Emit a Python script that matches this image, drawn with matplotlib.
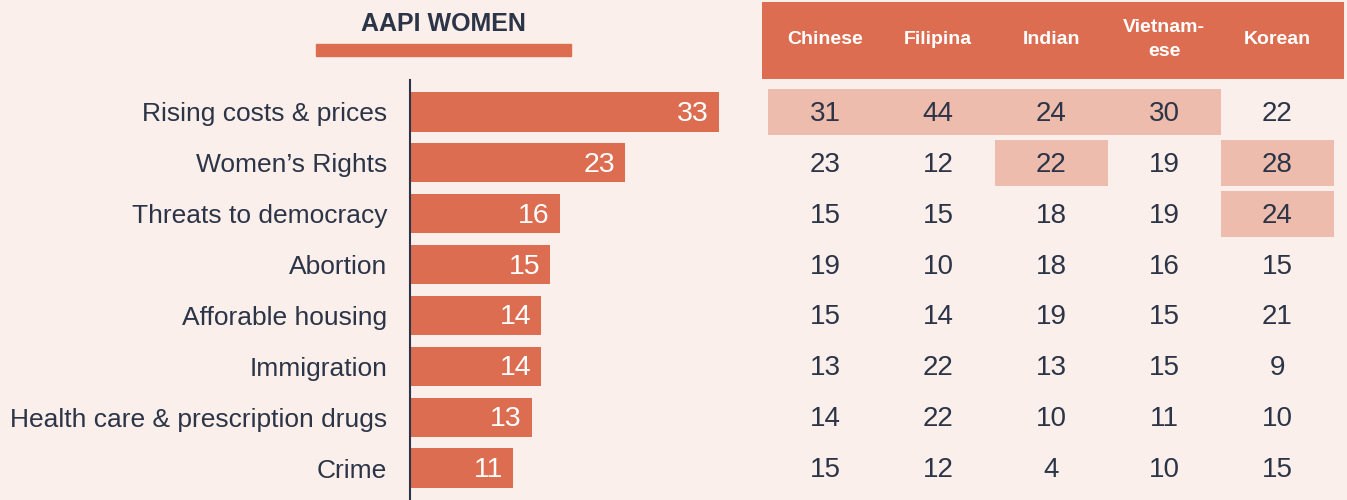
import matplotlib.pyplot as plt
from matplotlib.patches import Rectangle

plt.rcParams['font.family'] = ['Liberation Sans', 'DejaVu Sans']

issues = ["Rising costs & prices", "Women’s Rights", "Threats to democracy",
          "Abortion", "Afforable housing", "Immigration",
          "Health care & prescription drugs", "Crime"]
aapi_women = [33, 23, 16, 15, 14, 14, 13, 11]

groups = ["Chinese", "Filipina", "Indian", "Vietnam-\nese", "Korean"]
chinese = [31, 23, 15, 19, 15, 13, 14, 15]
filipina = [44, 12, 15, 10, 14, 22, 22, 12]
indian = [24, 22, 18, 18, 19, 13, 10, 4]
vietnamese = [30, 19, 19, 16, 15, 15, 11, 10]
korean = [22, 28, 24, 15, 21, 9, 10, 15]
# (row, column) cells shaded in the table
highlighted = [(0, 0), (0, 1), (0, 2), (0, 3), (1, 2), (1, 4), (2, 4)]

bg = '#faefea'
coral = '#dd6d51'
light = '#eebcad'
dark = '#2c3447'

W, H = 1347, 500
fig = plt.figure(figsize=(W / 100, H / 100), dpi=100, facecolor=bg)

ylim = (7.629, -2.202)
nudge = 0.04  # digits sit a touch low in the reference

# bar chart
ax = fig.add_axes([410 / W, 0, 350 / W, 1])
ax.set_facecolor('none')
rows = range(len(issues))
ax.barh(rows, aapi_women, height=0.77, color=coral)
for r, v in zip(rows, aapi_women):
    ax.annotate(str(v), (v, r + nudge), xytext=(-7, 0), textcoords='offset points',
                ha='right', va='center', color='white', fontsize=20.5)
ax.set_xlim(0, 37.43)
ax.set_ylim(*ylim)
ax.set_yticks(list(rows), issues, fontsize=19, color=dark)
ax.tick_params(axis='y', length=0, pad=16.5)
ax.set_xticks([])
for s in ['top', 'right', 'bottom']:
    ax.spines[s].set_visible(False)
ax.spines['left'].set_color(dark)
ax.spines['left'].set_linewidth(1.5)
ax.spines['left'].set_bounds(-0.63, 7.629)

fig.text(443 / W, 1 - 24 / H, "AAPI WOMEN", ha='center', va='center',
         fontsize=18, fontweight='bold', color=dark)
fig.patches.append(Rectangle((316 / W, 1 - 56 / H), 255 / W, 12 / H,
                             transform=fig.transFigure, color=coral))

# table
tx = fig.add_axes([762 / W, 0, (W - 762) / W, 1])
tx.set_facecolor('none')
tx.set_xlim(-0.5575, 4.619)
tx.set_ylim(*ylim)
tx.axis('off')
tx.add_patch(Rectangle((-0.5575, -2.163), 5.15, 1.514, color=coral, lw=0))
for c, g in enumerate(groups):
    tx.text(c, -1.42, g, ha='center', va='center', color='white',
            fontsize=14, fontweight='bold', linespacing=1.55)
for r, c in highlighted:
    tx.add_patch(Rectangle((c - 0.5, r - 0.45), 1.0, 0.9, color=light, lw=0))
for c, col in enumerate([chinese, filipina, indian, vietnamese, korean]):
    for r, v in enumerate(col):
        tx.text(c, r + nudge, str(v), ha='center', va='center', color=dark,
                fontsize=20)

fig.savefig('out.png', dpi=100, facecolor=bg)
